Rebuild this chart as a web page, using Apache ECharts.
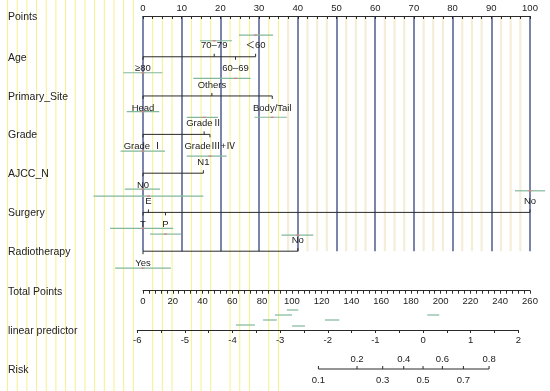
<!DOCTYPE html>
<html><head><meta charset="utf-8">
<script src="https://cdn.jsdelivr.net/npm/echarts@6/dist/echarts.min.js"></script>
<style>html,body{margin:0;padding:0;background:#fff}#c{width:550px;height:391px}</style>
</head><body><div id="c"></div>
<script>
// ---------------- data ----------------
const rowNames = ["Points","Age","Primary_Site","Grade","AJCC_N","Surgery","Radiotherapy"];
const ageLevels = ["≥80","70–79","60–69","＜60"];
const agePoints = [0, 18.4, 23.9, 29.1];
const ageCI = [[-5.1,5.0],[14.7,23.0],[13.0,27.8],[24.8,33.6]];
const siteLevels = ["Head","Others","Body/Tail"];
const sitePoints = [0, 17.8, 33.4];
const siteCI = [[-4.2,4.2], null, [28.8,37.2]];
const gradeLevels = ["Grade Ⅰ","GradeⅡ","GradeⅢ+Ⅳ"];
const gradePoints = [0, 15.8, 17.3];
const gradeCI = [[-5.8,5.7],[11.3,19.4],[11.3,21.6]];
const nLevels = ["N0","N1"];
const nPoints = [0, 15.6];
const nCI = [[-4.7,4.4], null];
const surgeryLevels = ["T","E","P","No"];
const surgeryPoints = [0, 1.4, 5.8, 100];
const surgeryCI = [[-8.5,7.8],[-12.8,15.6],[1.8,9.8],[96.1,103.9]];
const radioLevels = ["Yes","No"];
const radioPoints = [0, 40];
const radioCI = [[-7.2,7.2],[35.8,44.0]];
const pointsRange = [0, 100];
const totalPointsRange = [0, 260];
const lpRange = [-6, 2];
const riskTicks = [0.1,0.2,0.3,0.4,0.5,0.6,0.7,0.8];
const lpCI = [[-3.93,-3.53],[-3.36,-3.07],[-3.11,-2.75],[-2.86,-2.62],[-2.75,-2.48],[-2.06,-1.76],[0.09,0.34]];

// ---------------- layout / style ----------------
const rowY = [0, 1.04, 2.04, 3.02, 4.01, 5.01, 6];
const sides = [null,[1,-1,1,-1],[1,-1,1],[1,-1,1],[1,-1],[1,-1,1,-1],[1,-1]];
const ciDy = [null,[16,-16,21.6,-21.7],[15.7,0,21.3],[16.7,-17,21.7],[16,0],[16,-16.3,21.7,-21.6],[17,-16]];
const lpCIDy = [-5,-10,-15,-20,-4,-10,-15];
const FONT = '"Liberation Sans", Arial, "Noto Sans CJK SC", sans-serif';
const TXT = '#222';
const AX = '#2a2a2a';
const GREEN = '#82b89c';
const RED = '#e07a7a';

const vars = [null,
  {levels:ageLevels, pts:agePoints, ci:ageCI},
  {levels:siteLevels, pts:sitePoints, ci:siteCI},
  {levels:gradeLevels, pts:gradePoints, ci:gradeCI},
  {levels:nLevels, pts:nPoints, ci:nCI},
  {levels:surgeryLevels, pts:surgeryPoints, ci:surgeryCI},
  {levels:radioLevels, pts:radioPoints, ci:radioCI}
];

function title(text, y){
  return {type:'text', style:{text, x:8, y:y+1, verticalAlign:'middle', align:'left',
    fontSize:10.5, fontFamily:FONT, fill:TXT}};
}
function smallText(text, x, y){
  return {type:'text', style:{text, x, y, align:'center', verticalAlign:'middle',
    fontSize:9.5, fontFamily:FONT, fill:TXT}};
}
function seg(x1,y1,x2,y2,color,w){
  return {type:'line', shape:{x1,y1,x2,y2}, style:{stroke:color, lineWidth:w||1}};
}

function renderVar(params, api){
  const i = params.dataIndex;
  const y = api.coord([0, rowY[i]])[1];
  const ch = [title(rowNames[i], y)];
  if (i === 0) return {type:'group', children:ch};
  const v = vars[i];
  const xs = v.pts.map(p => api.coord([p, rowY[i]])[0]);
  ch.push(seg(Math.min(...xs), y, Math.max(...xs), y, AX, 1));
  v.levels.forEach((lab,k) => {
    const s = sides[i][k], x = xs[k];
    ch.push(seg(x, y, x, y + s*3, AX, 1));
    ch.push(smallText(lab, x, y + (s < 0 ? -11 : 12)));
    const ci = v.ci[k];
    if (ci){
      const gy = y + ciDy[i][k];
      const a = api.coord([ci[0], rowY[i]])[0], b = api.coord([ci[1], rowY[i]])[0];
      ch.push(seg(a, gy, b, gy, GREEN, 1.2));
      ch.push(seg(x-1.5, gy, x+1.5, gy, RED, 1.2));
    }
  });
  return {type:'group', children:ch};
}

function renderStripes(params, api){
  const top = api.coord([0,0])[1], bot = api.coord([0,6])[1];
  const ch = [];
  for (let v = -37.5; v < 100; v += 2.5){
    if (Math.abs(v % 10) < 1e-6 && v >= 0) continue;
    const x = api.coord([v,0])[0];
    if (v < 0) ch.push(seg(x, 0, x, 391, '#f5f08c', 1));
    else if (v <= 36) ch.push(seg(x, top + 1, x, 391, '#f5f08c', 1));
    else ch.push(seg(x, top + 1, x, bot, '#f4eed8', 2.2));
  }
  return {type:'group', children:ch, silent:true};
}

function renderTitleOnly(text){
  return function(params, api){
    const y = api.coord([0,0])[1];
    return {type:'group', children:[title(text, y)]};
  };
}

function renderLP(params, api){
  const y = api.coord([lpRange[0],0])[1];
  const ch = [title('linear predictor', y)];
  lpCI.forEach((c,k) => {
    const a = api.coord([c[0],0])[0], b = api.coord([c[1],0])[0];
    ch.push(seg(a, y + lpCIDy[k], b, y + lpCIDy[k], GREEN, 1.2));
  });
  return {type:'group', children:ch};
}

function logit(p){ return Math.log(p/(1-p)); }
function renderRisk(params, api){
  const y = api.coord([lpRange[0],0])[1];
  const ch = [title('Risk', y)];
  const xs = riskTicks.map(r => api.coord([logit(r),0])[0]);
  ch.push(seg(xs[0], y, xs[xs.length-1], y, AX, 1));
  riskTicks.forEach((r,k) => {
    ch.push(seg(xs[k], y, xs[k], y-3, AX, 1));
    const above = (k % 2 === 1);
    ch.push(smallText(String(r), xs[k], y + (above ? -10 : 11)));
  });
  return {type:'group', children:ch};
}

const axisCommon = {
  type:'value',
  z:2,
  axisLine:{show:true, onZero:false, lineStyle:{color:AX, width:1}},
  axisTick:{show:true, length:3, lineStyle:{color:AX, width:1}},
  axisLabel:{fontSize:9.5, fontFamily:FONT, color:TXT},
  splitLine:{show:false}
};

const option = {
  animation:false,
  backgroundColor:'#fff',
  grid:[
    {left:143, width:387, top:16, height:235.2},
    {left:143, width:387, top:289.7, height:1},
    {left:137.3, width:381, top:329, height:1},
    {left:137.3, width:381, top:368, height:1}
  ],
  xAxis:[
    Object.assign({}, axisCommon, {gridIndex:0, position:'top', min:pointsRange[0], max:pointsRange[1], interval:10,
      axisTick:{show:true, inside:true, length:3, lineStyle:{color:AX}},
      minorTick:{show:true, splitNumber:4, length:3, lineStyle:{color:AX}},
      axisLabel:{margin:3, fontSize:9.5, fontFamily:FONT, color:TXT},
      splitLine:{show:true, lineStyle:{color:'#4f5b8c', width:1.5}}}),
    Object.assign({}, axisCommon, {gridIndex:1, position:'bottom', min:totalPointsRange[0], max:totalPointsRange[1], interval:20,
      minorTick:{show:true, splitNumber:5, length:3, lineStyle:{color:AX}},
      axisLabel:{margin:6, fontSize:9.5, fontFamily:FONT, color:TXT}}),
    Object.assign({}, axisCommon, {gridIndex:2, position:'bottom', min:lpRange[0], max:lpRange[1], interval:1,
      minorTick:{show:true, splitNumber:2, length:3, lineStyle:{color:AX}},
      axisLabel:{margin:6, fontSize:9.5, fontFamily:FONT, color:TXT}}),
    {gridIndex:3, type:'value', min:lpRange[0], max:lpRange[1], show:false}
  ],
  yAxis:[
    {gridIndex:0, type:'value', min:0, max:6, inverse:true, show:false},
    {gridIndex:1, type:'value', min:0, max:1, show:false},
    {gridIndex:2, type:'value', min:0, max:1, show:false},
    {gridIndex:3, type:'value', min:0, max:1, show:false}
  ],
  series:[
    {type:'custom', xAxisIndex:0, yAxisIndex:0, data:[[0,0]], renderItem:renderStripes, clip:false, silent:true, z:1},
    {type:'custom', xAxisIndex:0, yAxisIndex:0, data:rowNames.map((n,i)=>[0,i]), renderItem:renderVar, clip:false, silent:true, z:3},
    {type:'custom', xAxisIndex:1, yAxisIndex:1, data:[[0,0]], renderItem:renderTitleOnly('Total Points'), clip:false, silent:true, z:3},
    {type:'custom', xAxisIndex:2, yAxisIndex:2, data:[[lpRange[0],0]], renderItem:renderLP, clip:false, silent:true, z:3},
    {type:'custom', xAxisIndex:3, yAxisIndex:3, data:[[lpRange[0],0]], renderItem:renderRisk, clip:false, silent:true, z:3}
  ]
};
const chart = echarts.init(document.getElementById('c'), null, {renderer:'canvas'});
chart.setOption(option);
</script>
</body></html>
